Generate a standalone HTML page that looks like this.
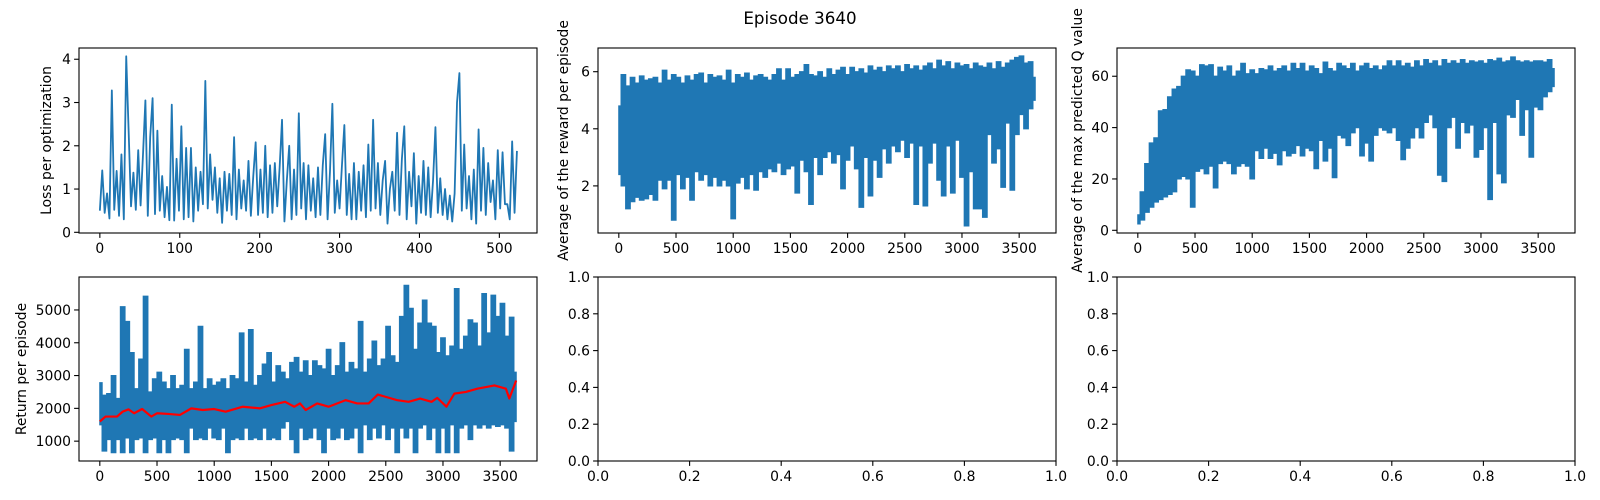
<!DOCTYPE html>
<html><head><meta charset="utf-8">
<style>
html,body{margin:0;padding:0;background:#fff;}
svg{display:block;font-family:"DejaVu Sans","Liberation Sans",sans-serif;}
</style></head>
<body>
<svg id="fig" width="1600" height="500" viewBox="0 0 1600 500" xmlns="http://www.w3.org/2000/svg">
<rect width="1600" height="500" fill="#fff"/>
<text x="800" y="24" text-anchor="middle" font-size="16.7">Episode 3640</text>
</svg>
<script>
// ---- data ----
const lossStep = 3;
const lossValues = [0.5,1.43,0.45,0.9,0.32,3.28,0.52,1.42,0.38,1.8,0.3,4.07,2.35,0.6,1.38,0.52,1.9,0.62,1.8,3.05,0.38,2.2,3.1,0.42,2.35,0.5,1.3,0.35,1.05,0.28,2.95,0.27,1.7,0.5,2.45,0.3,1.95,0.35,1.95,0.25,1.5,0.5,1.4,0.65,3.5,0.55,1.8,0.75,1.5,0.45,1.25,0.22,1.4,0.5,1.35,0.4,2.2,0.3,1.45,0.55,1.2,0.5,1.65,0.38,1.3,2.08,0.4,1.45,0.45,2.0,0.35,1.55,0.45,1.6,0.6,1.5,2.6,0.25,1.2,2.0,0.3,1.45,0.4,2.75,0.55,1.6,0.3,1.55,0.5,1.25,0.35,1.5,0.4,1.55,2.27,0.3,1.4,2.97,0.45,1.2,0.55,1.55,2.48,0.4,1.35,0.3,1.6,0.3,1.4,0.5,1.55,0.35,2.03,0.5,2.6,0.55,1.6,0.4,1.2,1.65,0.2,1.0,1.4,0.5,2.3,0.4,1.7,2.45,0.3,1.4,0.6,1.83,0.2,1.3,0.45,1.65,0.4,1.5,0.35,1.2,2.43,0.45,1.25,0.4,1.0,0.3,0.85,0.25,0.9,3.0,3.68,0.5,2.03,0.55,1.3,0.3,1.45,0.2,2.38,0.5,1.95,0.4,1.6,0.7,1.2,0.3,1.9,0.55,1.85,0.65,0.65,0.3,2.1,0.45,1.88];

// dense series: alternating (bin max, bin min) per 40-episode bin
const binWidth = 40;
const rewardValues = [4.8,2.4,5.9,2.0,5.5,1.2,5.8,1.45,5.6,1.6,5.85,1.5,5.7,1.55,5.75,1.7,5.8,1.5,5.6,2.2,6.05,1.9,5.7,2.2,5.9,0.8,5.8,2.4,5.6,1.9,5.85,2.3,5.7,1.5,5.9,2.5,5.95,2.2,5.6,2.4,5.9,2.0,5.8,2.3,5.85,2.0,5.7,2.2,6.05,2.0,5.6,0.85,5.9,2.1,5.8,2.3,5.95,1.9,5.7,2.4,5.85,1.85,5.9,2.5,5.8,2.3,5.7,2.6,5.9,2.5,6.1,2.8,5.7,2.4,6.1,2.6,5.8,2.7,5.9,1.75,6.0,2.9,6.25,2.5,5.9,1.35,5.85,3.0,6.0,2.4,5.8,3.0,6.1,3.2,5.9,2.8,6.05,3.1,6.15,1.9,5.9,2.9,6.15,3.4,6.0,2.6,6.1,1.25,5.95,3.0,6.2,1.65,6.05,2.9,6.15,2.3,6.0,3.3,6.2,2.8,6.1,3.4,6.2,3.2,6.0,3.6,6.25,3.0,6.1,3.5,6.2,1.35,6.05,3.4,6.2,1.3,6.3,2.8,6.1,3.5,6.4,2.2,6.2,1.65,6.35,3.4,6.1,1.75,6.3,3.6,6.2,2.3,6.25,0.6,6.1,2.5,6.3,1.2,6.2,1.2,6.15,0.9,6.3,3.8,6.1,2.8,6.35,3.3,6.15,1.95,6.3,4.2,6.4,1.85,6.5,3.8,6.55,4.5,6.3,4.0,6.35,4.7,5.8,5.0];

const qValues = [6,2.5,15,4,26,7,34,9,36,11,46.5,12,47,13,52,14,55,15,56,20,60,21,62.5,20,62,9,60,23,64.5,24,64,22,64.5,25,60,16.5,63.5,26,62,27,64,26,60,22,62,25,65,26,61,25,62.5,20,61,31,63,28,62.5,32,64,28,62,30,63,25.5,64,31,62,29,65,30,63,33,65,29,62,32,64,31,63,24,61,35,65.5,27,63,32,62,20.5,65,37,64,36,63,33,65,38,62,40,64,29,65,34,63,27,64,37,62.5,40,64,39,66,38,64,40,66,35,64,27.5,65,32,63.5,36,66,40,64,36,66.5,42,65,45,66,40,64,21.5,66.5,19,65,40,66,44,65,32,66.5,42,65,38,66,41,65.5,28.5,66,31.5,65,40,66.5,12,66,42,67,22,65.5,18.5,66,45,67.5,44,66,51,65.5,37,66,47,65.5,28.5,66,48,66,47,65.5,52,66.5,54,63,56];

const returnValues = [2780,1500,2400,700,2450,1050,3000,650,2300,1050,5100,650,4650,1100,3700,650,2600,1050,3500,1100,5420,650,2500,1050,2900,1100,3100,650,2800,1050,2600,650,3000,1050,2600,1100,2700,1050,3800,650,2600,1400,2800,1050,4500,1100,2600,1050,2900,1400,2700,1100,2800,1050,2900,1400,2600,650,3000,1050,2900,1100,4300,1050,2800,1400,4400,1050,2700,1100,3000,1050,3350,1400,3700,1050,2800,1100,3300,1050,3100,1400,2900,1600,3400,1050,3550,650,3100,1400,3450,1050,3000,1100,3450,1400,3300,1050,3200,650,3800,1400,3000,1050,3300,1100,4000,1400,3100,1050,3400,1100,3200,1400,4650,650,3100,1500,3500,1050,4050,1400,3300,1100,3500,1500,4500,1050,3600,1400,3400,650,4800,1400,5750,1100,5050,1400,3800,650,4600,1400,5300,1500,4600,1050,4500,1400,3700,650,4150,1400,3600,650,3900,1500,5650,650,3800,1400,4200,1500,4700,1050,4600,1500,3900,1400,5500,1500,4300,1400,5450,1500,4800,1450,5200,1500,4200,1400,4780,700,3100,1600];

const avgEpisodes = [0,50,150,200,250,300,370,450,500,600,700,800,900,1000,1100,1250,1400,1500,1620,1700,1750,1800,1900,2000,2150,2250,2350,2430,2500,2600,2700,2800,2900,2950,3030,3100,3200,3300,3450,3550,3580,3640];
const avgReturn = [1600,1750,1750,1900,1970,1850,1980,1750,1850,1830,1800,2000,1950,1980,1900,2050,2000,2100,2200,2050,2150,1950,2150,2050,2250,2150,2150,2420,2350,2250,2200,2300,2200,2320,2050,2450,2500,2600,2700,2600,2300,2850];

const tickLoss = [0,100,200,300,400,500];
const tickEp = [0,500,1000,1500,2000,2500,3000,3500];
const tickLossY = [0,1,2,3,4];
const tickRewardY = [2,4,6];
const tickQY = [0,20,40,60];
const tickReturnY = [1000,2000,3000,4000,5000];
const tickUnit = [0,0.2,0.4,0.6,0.8,1.0];
const lastEpisode = 3640;

// ---- drawing ----
const NS = 'http://www.w3.org/2000/svg';
const svg = document.getElementById('fig');
function mk(tag, attrs, parent){
  const e = document.createElementNS(NS, tag);
  for (const k in attrs) e.setAttribute(k, attrs[k]);
  (parent||svg).appendChild(e);
  return e;
}
function axes(name, x0,x1,y0,y1, xlim, ylim, xt, yt, fmtX, fmtY, ylabel, labelX){
  const g = mk('g', {});
  
  
  const sx = v => x0 + (v - xlim[0])/(xlim[1]-xlim[0])*(x1-x0);
  const sy = v => y1 - (v - ylim[0])/(ylim[1]-ylim[0])*(y1-y0);
  const clipId = name + '-clip';
  const cp = mk('clipPath', {id: clipId}, g);
  mk('rect', {x:x0, y:y0, width:x1-x0, height:y1-y0}, cp);
  const plot = mk('g', {'clip-path':'url(#'+clipId+')'}, g);
  
  
  xt.forEach(v => {
    const x = sx(v);
    mk('line', {x1:x, x2:x, y1:y1, y2:y1+4.9, stroke:'#000', 'stroke-width':1.1}, g);
    const t = mk('text', {x:x, y:y1+20, 'text-anchor':'middle', 'font-size':13.9}, g);
    
    
    t.textContent = fmtX(v);
  });
  yt.forEach(v => {
    const y = sy(v);
    mk('line', {x1:x0-4.9, x2:x0, y1:y, y2:y, stroke:'#000', 'stroke-width':1.1}, g);
    const t = mk('text', {x:x0-8, y:y+5, 'text-anchor':'end', 'font-size':13.9}, g);
    
    
    t.textContent = fmtY(v);
  });
  if (ylabel){
    const cy = (y0+y1)/2;
    const t = mk('text', {x:labelX, y:cy, 'text-anchor':'middle', 'dominant-baseline':'central', 'font-size':13.9, transform:'rotate(-90 '+labelX+' '+cy+')'}, g);
    
    
    t.textContent = ylabel;
  }
  const frame = mk('rect', {x:x0, y:y0, width:x1-x0, height:y1-y0, fill:'none', stroke:'#000', 'stroke-width':1.1}, g);
  
  
  return {sx, sy, plot};
}
function line(ax, xs, ys, color, w, name){
  let d = '';
  for (let i=0;i<ys.length;i++) d += (i?'L':'M') + ax.sx(xs[i]).toFixed(2) + ',' + ax.sy(ys[i]).toFixed(2);
  const p = mk('path', {d:d, fill:'none', stroke:color, 'stroke-width':w, 'stroke-linejoin':'round'}, ax.plot);
  
  
}
// dense noisy series drawn as per-bin min/max band (as a dense line plot appears)
function band(ax, vals, color, name){
  const n = Math.floor(vals.length/2);
  const up = [], lo = [];
  for (let p=0;p<n;p++){
    const xa = Math.max(0, p*binWidth - binWidth/2), xb = Math.min(lastEpisode, p*binWidth + binWidth/2);
    const hi = vals[2*p], lw = vals[2*p+1];
    const xm = p*binWidth;
    up.push([ax.sx(xa), ax.sy(hi)], [ax.sx(xb), ax.sy(hi)]);
    lo.push([ax.sx(xa), ax.sy(lw)], [ax.sx(xb), ax.sy(lw)]);
  }
  const pts = up.concat(lo.reverse());
  const d = 'M' + pts.map(q => q[0].toFixed(2)+','+q[1].toFixed(2)).join('L') + 'Z';
  const p = mk('path', {d:d, fill:color, stroke:color, 'stroke-width':1.2, 'stroke-linejoin':'miter'}, ax.plot);
  
  
}
const intFmt = v => String(v);
const decFmt = v => v.toFixed(1);

const a1 = axes('loss-chart', 79,537,48,233, [-26.1,547.1], [-0.016,4.26], tickLoss, tickLossY, intFmt, intFmt, 'Loss per optimization', 47);
line(a1, lossValues.map((v,i)=>i*lossStep), lossValues, '#1f77b4', 1.8, 'loss-line');

const a2 = axes('reward-chart', 598,1056,48,233, [-182,3822], [0.35,6.83], tickEp, tickRewardY, intFmt, intFmt, 'Average of the reward per episode', 564);
band(a2, rewardValues, '#1f77b4', 'reward-line');

const a3 = axes('q-value-chart', 1117,1575,48,233, [-182,3822], [-1.05,71], tickEp, tickQY, intFmt, intFmt, 'Average of the max predicted Q value', 1078);
band(a3, qValues, '#1f77b4', 'q-value-line');

const a4 = axes('return-chart', 79,537,277,461, [-182,3822], [395,6005], tickEp, tickReturnY, intFmt, intFmt, 'Return per episode', 22);
band(a4, returnValues, '#1f77b4', 'return-line');
line(a4, avgEpisodes, avgReturn, '#ff0000', 2.2, 'return-moving-average-line');

axes('empty-chart-middle', 598,1056,277,461, [0,1], [0,1], tickUnit, tickUnit, decFmt, decFmt, null, 0);
axes('empty-chart-right', 1117,1575,277,461, [0,1], [0,1], tickUnit, tickUnit, decFmt, decFmt, null, 0);
</script>
</body></html>
